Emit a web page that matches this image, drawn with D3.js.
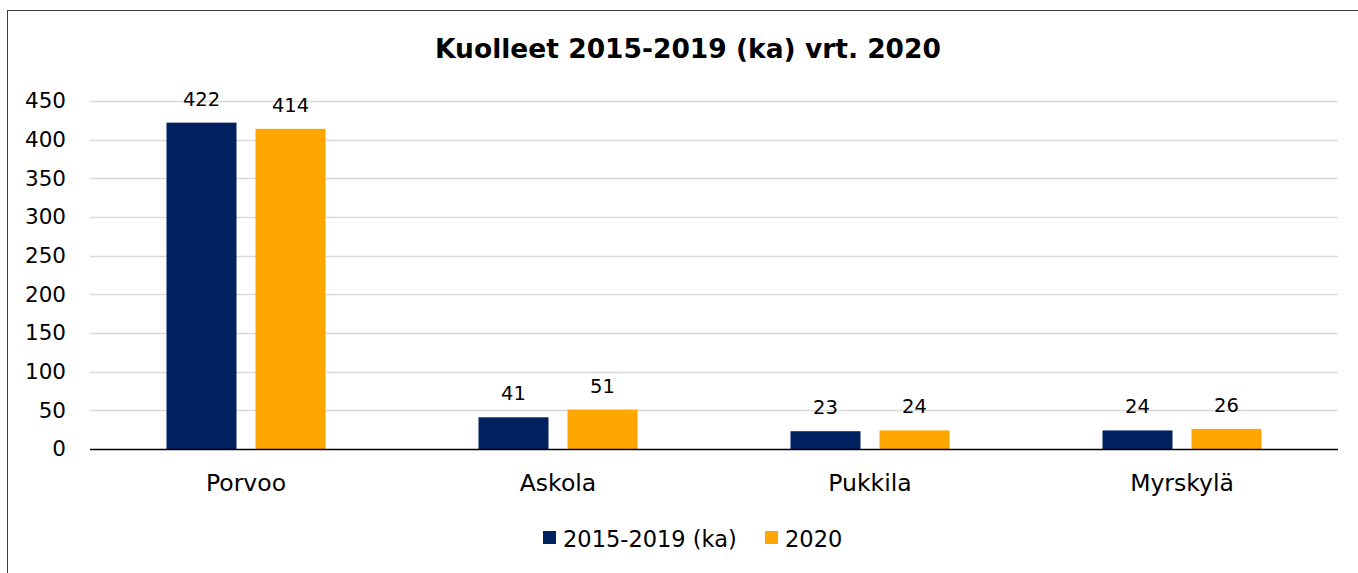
<!DOCTYPE html>
<html>
<head>
<meta charset="utf-8">
<script src="https://cdn.jsdelivr.net/npm/d3@7"></script>
<style>
  body { margin: 0; background: #fff; }
  svg text { font-family: "DejaVu Sans", sans-serif; fill: #000; }
</style>
</head>
<body>
<script>
// data
const categories = ["Porvoo", "Askola", "Pukkila", "Myrskylä"]
const seriesNames = ["2015-2019 (ka)", "2020"]
const avg2015_2019 = [422, 41, 23, 24]
const deaths2020 = [414, 51, 24, 26]
const yTicks = [0, 50, 100, 150, 200, 250, 300, 350, 400, 450]

const colors = ["#002060", "#FFA600"]
const width = 1358
const height = 573
const plot = { left: 90, right: 1338, top: 101, bottom: 449 }

const svg = d3.select("body")
    .append("svg")
    .attr("width", width)
    .attr("height", height)

// chart frame
svg.append("rect")
    .attr("x", 7.5)
    .attr("y", 10.5)
    .attr("width", width + 10)
    .attr("height", height + 10)
    .attr("fill", "none")
    .attr("stroke", "#404040")
    .attr("stroke-width", 1)

const x0 = d3.scaleBand()
    .domain(categories)
    .range([plot.left, plot.right])

const y = d3.scaleLinear()
    .domain([0, 450])
    .range([plot.bottom, plot.top])

// bar group width 159 centred in band of 312
const groupW = 159
const x1 = d3.scaleBand()
    .domain(seriesNames)
    .range([(x0.bandwidth() - groupW) / 2, (x0.bandwidth() + groupW) / 2])
    .paddingInner(19 / 89)

// title
svg.append("text")
    .attr("x", 688)
    .attr("y", 58)
    .attr("text-anchor", "middle")
    .style("font-size", "26.5px")
    .style("font-weight", "bold")
    .text("Kuolleet 2015-2019 (ka) vrt. 2020")

// gridlines
svg.append("g")
    .selectAll("line")
    .data(yTicks.filter(d => d > 0))
    .enter().append("line")
    .attr("x1", plot.left)
    .attr("x2", plot.right)
    .attr("y1", d => Math.round(y(d)) + 0.5)
    .attr("y2", d => Math.round(y(d)) + 0.5)
    .attr("stroke", "#d9d9d9")
    .attr("stroke-width", 1.5)

// y axis labels
const yAxis = d3.axisLeft(y).tickValues(yTicks).tickSize(0).tickPadding(24)
const gy = svg.append("g")
    .attr("transform", `translate(${plot.left},0)`)
    .call(yAxis)
gy.select(".domain").remove()
gy.selectAll("text")
    .style("font-family", "DejaVu Sans, sans-serif")
    .style("font-size", "21.5px")

// bars
const series = [avg2015_2019, deaths2020]
const rows = categories.map((c, i) => ({
    cat: c,
    vals: seriesNames.map((s, j) => ({ s, j, v: series[j][i] }))
}))

const groups = svg.append("g")
    .selectAll("g")
    .data(rows)
    .enter().append("g")
    .attr("transform", d => `translate(${x0(d.cat)},0)`)

groups.selectAll("rect")
    .data(d => d.vals)
    .enter().append("rect")
    .attr("x", d => x1(d.s))
    .attr("width", x1.bandwidth())
    .attr("y", d => y(d.v))
    .attr("height", d => y(0) - y(d.v))
    .attr("fill", d => colors[d.j])

groups.selectAll("text")
    .data(d => d.vals)
    .enter().append("text")
    .attr("x", d => x1(d.s) + x1.bandwidth() / 2)
    .attr("y", d => y(d.v) - 17)
    .attr("text-anchor", "middle")
    .style("font-size", "19.5px")
    .text(d => d.v)

// x axis baseline
svg.append("line")
    .attr("x1", plot.left)
    .attr("x2", plot.right)
    .attr("y1", plot.bottom + 0.5)
    .attr("y2", plot.bottom + 0.5)
    .attr("stroke", "#000")
    .attr("stroke-width", 1.5)

// category labels
const xAxis = d3.axisBottom(x0).tickSize(0).tickPadding(25)
const gx = svg.append("g")
    .attr("transform", `translate(0,${plot.bottom})`)
    .call(xAxis)
gx.select(".domain").remove()
gx.selectAll("text")
    .style("font-family", "DejaVu Sans, sans-serif")
    .style("font-size", "23.5px")

// legend
const legend = svg.append("g").attr("transform", "translate(543,531)")
const legendX = [0, 222]
seriesNames.forEach((s, j) => {
    const g = legend.append("g").attr("transform", `translate(${legendX[j]},0)`)
    g.append("rect")
        .attr("width", 13)
        .attr("height", 13)
        .attr("fill", colors[j])
    g.append("text")
        .attr("x", 20)
        .attr("y", 16)
        .style("font-size", "22.5px")
        .text(s)
})
</script>
</body>
</html>
